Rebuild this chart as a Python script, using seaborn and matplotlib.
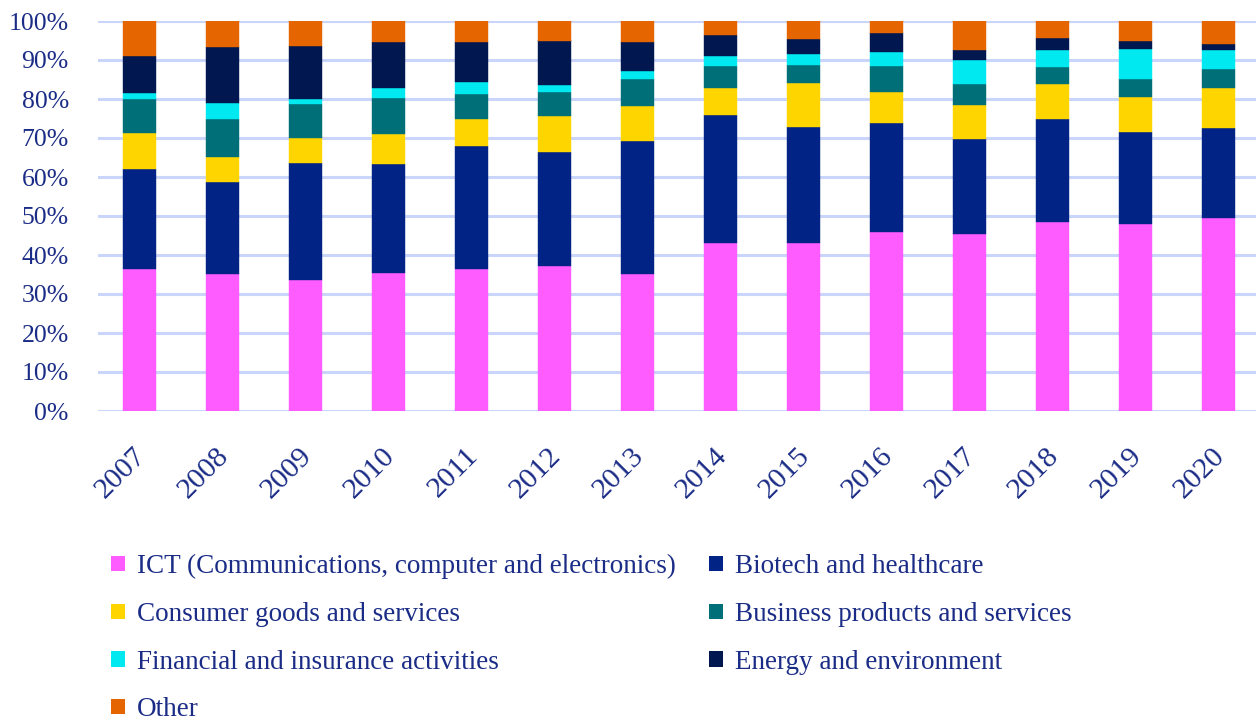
import matplotlib
matplotlib.use("Agg")
import matplotlib.pyplot as plt
import seaborn as sns
import numpy as np
from matplotlib.patches import Patch

years = ["2007", "2008", "2009", "2010", "2011", "2012", "2013",
         "2014", "2015", "2016", "2017", "2018", "2019", "2020"]

ict = [36.4, 35.1, 33.5, 35.4, 36.4, 37.2, 35.2, 43.2, 43.0, 46.0, 45.4, 48.5, 47.9, 49.4]
biotech = [25.6, 23.7, 30.1, 28.0, 31.5, 29.2, 34.0, 32.7, 29.8, 27.8, 24.4, 26.4, 23.6, 23.2]
consumer = [9.2, 6.3, 6.3, 7.7, 7.0, 9.2, 9.0, 6.8, 11.3, 8.0, 8.7, 8.9, 9.0, 10.3]
business = [8.8, 9.9, 8.8, 9.2, 6.4, 6.3, 6.9, 5.8, 4.6, 6.7, 5.3, 4.4, 4.6, 4.7]
financial = [1.5, 4.0, 1.3, 2.5, 3.0, 1.8, 2.1, 2.6, 2.8, 3.6, 6.2, 4.4, 7.6, 4.9]
energy = [9.5, 14.3, 13.7, 11.9, 10.2, 11.3, 7.4, 5.3, 3.9, 4.7, 2.6, 3.0, 2.2, 1.7]
other = [9.0, 6.7, 6.3, 5.3, 5.5, 5.0, 5.4, 3.6, 4.6, 3.2, 7.4, 4.4, 5.1, 5.8]

series_names = ["ICT (Communications, computer and electronics)",
                "Biotech and healthcare",
                "Consumer goods and services",
                "Business products and services",
                "Financial and insurance activities",
                "Energy and environment",
                "Other"]
series_values = [ict, biotech, consumer, business, financial, energy, other]
colors = ["#FF5CFF", "#002385", "#FFD500", "#006F78", "#00E9F0", "#00174F", "#E56500"]

yticks = [0, 10, 20, 30, 40, 50, 60, 70, 80, 90, 100]
ytick_labels = [f"{v}%" for v in yticks]

sns.set_theme(style="white")
plt.rcParams["font.family"] = ["Liberation Serif", "DejaVu Serif"]
text_color = "#1A2C86"
grid_color = "#C9D5FA"

fig = plt.figure(figsize=(12.56, 7.22), dpi=100)
ax = fig.add_axes([98 / 1256, 1 - 411 / 722, 1162 / 1256, 390 / 722])

bottom = np.zeros(len(years))
for name, vals, col in zip(series_names, series_values, colors):
    sns.barplot(x=years, y=vals, bottom=bottom, color=col, width=0.4,
                ax=ax, saturation=1, label=name, edgecolor=col, linewidth=0.3)
    bottom = bottom + np.array(vals)

ax.set_xlim(-0.5, 13.5)
ax.set_ylim(0, 100)
ax.set_yticks(yticks)
ax.set_yticklabels(ytick_labels)
ax.yaxis.grid(True, color=grid_color, linewidth=2.2)
ax.set_axisbelow(True)
for s in ax.spines.values():
    s.set_visible(False)
ax.tick_params(axis="both", length=0, colors=text_color)
ax.tick_params(axis="y", labelsize=18.5, pad=21)
ax.tick_params(axis="x", labelsize=21.5, pad=28)
for lab in ax.get_xticklabels():
    lab.set_rotation(45)
    lab.set_ha("right")
    lab.set_va("center_baseline")
    lab.set_rotation_mode("anchor")
ax.set_xlabel("")
ax.set_ylabel("")
if ax.get_legend() is not None:
    ax.get_legend().remove()

order = [0, 2, 4, 6, 1, 3, 5]
handles = [Patch(facecolor=colors[i], edgecolor="none") for i in order]
labels = [series_names[i] for i in order]
leg = fig.legend(handles, labels, ncol=2, loc="upper left",
                 bbox_to_anchor=(111 / 1256, 1 - 554 / 722),
                 frameon=False, fontsize=19.5, handlelength=0.5, handleheight=0.5,
                 handletextpad=0.45, labelspacing=0.84, columnspacing=1.24,
                 borderaxespad=0, borderpad=0)
for t in leg.get_texts():
    t.set_color(text_color)

fig.savefig("out.png", dpi=100)
